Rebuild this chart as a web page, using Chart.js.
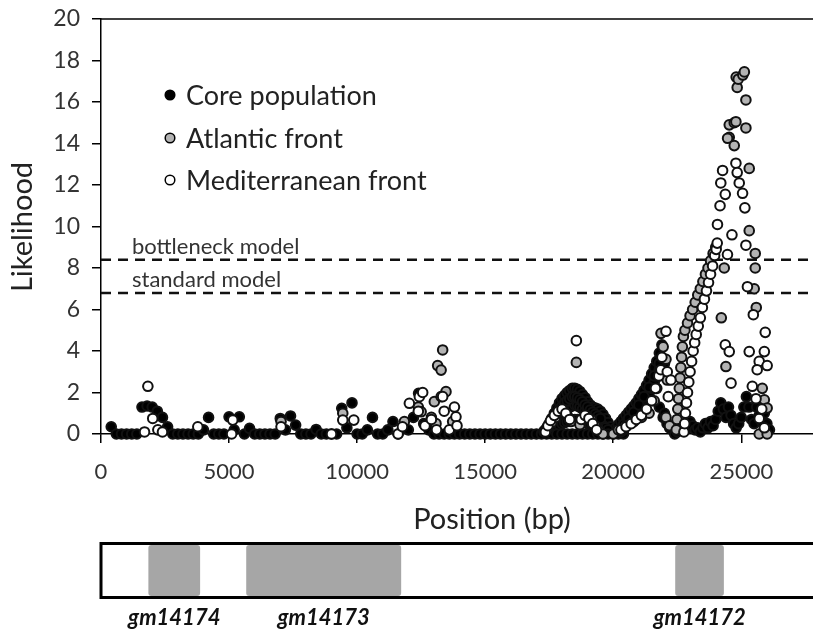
<!DOCTYPE html>
<html><head><meta charset="utf-8">
<script src="https://cdn.jsdelivr.net/npm/chart.js@4.4.1/dist/chart.umd.min.js"></script>
<style>
html,body{margin:0;padding:0;background:#fff;overflow:hidden;}
canvas{display:block;}
</style></head><body>
<canvas id="c" width="813" height="633"></canvas>
<script>
// ---------- data ----------
const seriesNames = ['Core population', 'Atlantic front', 'Mediterranean front'];
const xTickValues = [0, 5000, 10000, 15000, 20000, 25000];
const xMin = 0, xMax = 27800;
const yMin = 0, yMax = 20, yTickStep = 2;
const xTitle = 'Position (bp)';
const yTitle = 'Likelihood';

const thresholdLabels = ['bottleneck model', 'standard model'];
const thresholdValues = [8.4, 6.8];

const geneNames = ['gm14174', 'gm14173', 'gm14172'];
const geneStarts = [1850, 5670, 22420];
const geneEnds = [3870, 11720, 24320];

const corePos = [400,600,800,1000,1200,1400,1600,1800,2000,2200,2400,2600,2800,3000,3200,3400,3600,3800,4000,4200,4400,4600,4800,5000,5200,5400,5600,5800,6000,6200,6400,6600,6800,7000,7200,7400,7600,7800,8000,8200,8400,8600,8800,9000,9200,9400,9600,9800,10000,10200,10400,10600,10800,11000,11200,11400,11600,11800,12000,12200,12400,12600,12800,13000,13200,13400,13600,13800,14000,14200,14400,14600,14800,15000,15200,15400,15600,15800,16000,16200,16400,16600,16800,17000,17200,
17300,17400,17500,17600,17700,17800,17900,18000,18100,18200,18300,18400,18500,18600,18700,18800,18900,19000,19100,19200,19300,19400,19500,19600,19700,19800,19900,20000,20100,20200,20300,20400,20500,20600,20700,20800,20900,21000,21100,21200,21300,21400,21500,21600,21700,21800,21900,22000,22100,22200,
17500,17600,17700,17800,17900,18000,18100,18200,18300,18400,18500,18600,18700,18800,18900,19000,19100,19200,19300,19400,19500,19600,19700,19800,
17700,17800,17900,18000,18100,18200,18300,18400,18500,18600,18700,18800,18900,19000,19100,19200,19300,19400,19500,
17800,17900,18000,18100,18200,18300,18400,18500,18600,18700,18800,18900,19000,19100,19200,19300,19400,
17400,17600,17800,18000,18200,18400,18600,18800,19000,19200,19400,19600,19800,20000,20200,20400,
20300,20400,20500,20600,20700,20800,20900,21000,21100,21200,21300,21400,21500,21600,21700,21800,21900,
20400,20600,20800,21000,21200,21400,21600,21800,
21800,21950,22000,
22300,22400,22500,22600,22700,22800,22900,23000,23100,23200,23300,23400,23500,23600,23700,23800,23900,24000,24100,24200,24300,24400,24500,24600,24700,24800,24900,25000,25100,25200,25300,25400,25500,25600,25700,25800,25900,26000,26100];
const coreVal = [0.35,0,0,0,0,0,1.3,1.35,1.3,1.1,0.8,0.35,0,0,0,0,0,0,0.2,0.8,0,0,0,0.83,0.2,0.83,0,0.27,0,0,0,0,0,0.75,0.2,0.87,0.43,0,0,0,0.22,0,0,0,0,1.24,0.3,1.5,0,0,0.2,0.8,0,0,0.2,0.6,0,0.3,0.2,0.8,1.96,0.5,0.2,0,0,0,0,0,0,0,0,0,0,0,0,0,0,0,0,0,0,0,0,0,0,
0.15,0.3,0.5,0.75,1.0,1.25,1.5,1.7,1.85,2.0,2.1,2.2,2.2,2.15,2.05,1.9,1.75,1.55,1.4,1.3,1.25,1.2,1.1,0.95,0.75,0.55,0.35,0.2,0.3,0.45,0.6,0.75,0.9,1.05,1.2,1.35,1.5,1.7,1.9,2.1,2.35,2.6,2.9,3.2,3.5,3.9,4.3,3.4,0.5,0.3,
0.3,0.45,0.6,0.75,0.9,1.0,1.1,1.2,1.3,1.35,1.4,1.35,1.3,1.2,1.1,1.0,0.9,0.8,0.7,0.6,0.5,0.4,0.3,0.2,
0.8,1.0,1.2,1.35,1.5,1.6,1.7,1.8,1.8,1.75,1.65,1.55,1.4,1.3,1.15,1.05,0.95,0.85,0.75,
0.3,0.4,0.5,0.55,0.6,0.65,0.7,0.7,0.7,0.65,0.6,0.55,0.5,0.45,0.4,0.35,0.3,
0,0,0,0,0,0,0,0,0,0,0,0,0,0,0,0,
0.1,0.2,0.35,0.5,0.65,0.8,0.95,1.1,1.3,1.5,1.7,1.95,2.2,2.5,2.8,3.1,3.5,
0.45,0.75,1.05,1.4,1.8,2.25,2.8,3.4,
1.3,0.8,1.0,
0.2,0,0.1,0.3,0.2,0.5,0.3,0.6,0.4,0.2,0.3,0.1,0.3,0.5,0.3,0.6,0.4,0.7,1.1,1.5,1.2,0.8,1.3,0.9,0.5,0.3,0.5,0.8,1.3,1.8,1.3,0.7,0.5,1.3,0.9,0.6,1.0,0.5,0.2];

const atlPos = [7030,9440,11845,12390,12500,12900,13015,13080,13145,13280,13340,13470,13730,
17300,17450,17600,17750,17900,18050,18200,18350,18560,18700,18850,19000,19150,19300,19450,19600,20000,20200,20500,20800,21100,21400,21600,21700,21800,21865,21950,22060,22110,22060,22200,
22460,22490,22520,22550,22580,22610,22640,22670,22700,22740,22800,22900,23000,23100,23200,23300,23400,23500,23600,23700,23800,23900,24000,
24220,24400,24335,24530,24530,24465,24725,24725,24790,24840,24800,24880,25060,25120,25180,25180,25310,25310,25505,25545,25545,25585,25820,25900,26010,25700,26010];
const atlVal = [0.6,1.0,0.6,1.3,1.07,0.8,1.56,0.5,3.3,3.08,4.05,2.04,0.6,
0.1,0.3,0.55,0.8,1.0,1.05,0.9,0.6,3.45,0.45,0.7,0.85,0.7,0.4,0.15,0,0,0.2,0.4,0.6,0.8,1.0,1.6,2.2,2.8,4.85,4.2,3.6,2.6,0.8,0.4,
0.2,0.7,1.2,1.7,2.2,2.7,3.2,3.7,4.2,4.7,5.0,5.35,5.7,6.0,6.35,6.7,7.0,7.35,7.7,8.0,8.35,8.7,9.0,
5.6,3.25,8.0,14.3,14.9,14.25,13.9,15.0,15.05,16.7,17.2,17.1,17.3,17.45,16.1,14.75,12.8,9.8,7.0,8.7,8.0,6.1,2.2,1.65,1.25,0,0];

const medPos = [1700,1830,2020,2220,2400,3780,5100,5145,7030,9000,9440,9870,11600,11770,12040,12390,12430,12560,12650,12900,13100,13280,13340,13400,13600,13800,13860,13900,
17350,17450,17550,17700,17850,18000,18150,18300,18560,18750,18900,19050,19200,19350,20300,20500,20700,20900,21100,21300,21500,21650,21780,21860,21900,22060,22110,22150,22250,
22760,22790,22820,22860,22900,22950,23000,23060,23120,23180,23240,23320,23400,23480,23560,23640,23720,23800,23880,23960,24020,24060,
24070,24170,24200,24270,24375,24460,24635,24790,24840,24920,25050,25140,25180,25240,25470,25935,24375,24530,24600,25310,25900,25700,26010,25620,25430,25575,25700,25800,25900];
const medVal = [0.1,2.3,0.75,0.2,0.1,0.35,0,0.67,0.35,0,0.67,0.67,0,0.35,1.48,1.1,1.8,2.0,0.4,0.7,0.2,1.8,1.8,1.1,0.2,1.3,0.83,0.4,
0.1,0.4,0.65,0.9,1.1,1.2,1.0,0.7,4.5,0.7,0.9,0.75,0.5,0.2,0.2,0.35,0.5,0.7,0.9,1.2,1.6,2.2,2.8,3.1,3.7,4.95,3.0,1.8,2.6,
0.1,0.5,1.0,1.5,2.0,2.5,3.0,3.5,4.0,4.4,4.8,5.2,5.6,6.1,6.5,6.9,7.3,7.7,8.1,8.6,8.9,9.2,
10.1,11.0,12.1,12.7,11.55,8.65,9.6,13.05,12.6,12.1,11.6,10.9,9.1,7.1,5.75,4.9,4.3,3.97,2.45,3.97,3.97,3.5,3.3,3.1,2.3,1.7,0.75,1.2,0.3];

// ---------- chart ----------
const FONT = 'Lato, "Open Sans", sans-serif';
const toPts = (xs, ys) => xs.map((x, i) => ({x: x, y: ys[i]}));

const annot = {
  id: 'annot',
  afterDraw(chart) {
    const ctx = chart.ctx;
    const a = chart.chartArea;
    const xs = chart.scales.x, ys = chart.scales.y;
    ctx.save();
    // plot border top
    ctx.strokeStyle = '#000';
    ctx.lineWidth = 1.5;
    ctx.beginPath();
    ctx.moveTo(a.left, a.top); ctx.lineTo(a.right + 5, a.top);
    ctx.stroke();
    // threshold labels
    ctx.fillStyle = '#333';
    ctx.font = '22px ' + FONT;
    ctx.textAlign = 'left'; ctx.textBaseline = 'middle';
    thresholdLabels.forEach((t, i) => {
      ctx.fillText(t, a.left + 31, ys.getPixelForValue(thresholdValues[i]) - 13);
    });
    // legend
    const lx = a.left + 69, ly = [95, 138, 180];
    const fills = ['#000', '#b3b3b3', '#fff'];
    seriesNames.forEach((n, i) => {
      ctx.beginPath();
      ctx.arc(lx, ly[i], 4.8, 0, Math.PI * 2);
      ctx.fillStyle = fills[i]; ctx.fill();
      ctx.lineWidth = 1.5; ctx.strokeStyle = '#000'; ctx.stroke();
      ctx.fillStyle = '#222';
      ctx.font = '27px ' + FONT;
      ctx.textAlign = 'left'; ctx.textBaseline = 'middle';
      ctx.fillText(n, lx + 16, ly[i] + 1);
    });
    // axis titles
    ctx.fillStyle = '#222';
    ctx.font = '29px ' + FONT;
    ctx.textAlign = 'center'; ctx.textBaseline = 'middle';
    ctx.fillText(xTitle, 492, 520);
    ctx.save();
    ctx.translate(23, 227); ctx.rotate(-Math.PI / 2);
    ctx.fillText(yTitle, 0, 0);
    ctx.restore();
    // gene box
    const bx0 = xs.getPixelForValue(0), bx1 = xs.getPixelForValue(29000);
    const top = 543.5, bot = 597.5;
    ctx.fillStyle = '#a6a6a6';
    geneNames.forEach((g, i) => {
      const g0 = xs.getPixelForValue(geneStarts[i]), g1 = xs.getPixelForValue(geneEnds[i]);
      ctx.beginPath();
      if (ctx.roundRect) ctx.roundRect(g0, top + 1.5, g1 - g0, bot - top - 3, 3); else ctx.rect(g0, top + 1.5, g1 - g0, bot - top - 3);
      ctx.fill();
    });
    ctx.strokeStyle = '#000'; ctx.lineWidth = 3;
    ctx.strokeRect(bx0, top, bx1 - bx0, bot - top);
    ctx.fillStyle = '#111';
    ctx.font = 'italic bold 22px ' + FONT;
    ctx.textAlign = 'center'; ctx.textBaseline = 'middle';
    geneNames.forEach((g, i) => {
      const c = xs.getPixelForValue((geneStarts[i] + geneEnds[i]) / 2);
      ctx.fillText(g, c, 618);
    });
    ctx.restore();
  }
};

const ptStyle = (fill) => ({
  backgroundColor: fill, borderColor: '#111', pointRadius: 4.8, pointBorderWidth: 2, pointHoverRadius: 4.8, clip: false
});

new Chart(document.getElementById('c'), {
  type: 'scatter',
  data: {
    datasets: [
      Object.assign({label: seriesNames[0], data: toPts(corePos, coreVal), order: 3}, ptStyle('#000')),
      Object.assign({label: seriesNames[1], data: toPts(atlPos, atlVal), order: 2}, ptStyle('#b3b3b3')),
      Object.assign({label: seriesNames[2], data: toPts(medPos, medVal), order: 1}, ptStyle('#fff')),
      {type: 'line', label: thresholdLabels[0], data: [{x: xMin, y: thresholdValues[0]}, {x: xMax, y: thresholdValues[0]}],
        borderColor: '#111', borderWidth: 2.5, borderDash: [10, 7], pointRadius: 0, showLine: true, order: 4},
      {type: 'line', label: thresholdLabels[1], data: [{x: xMin, y: thresholdValues[1]}, {x: xMax, y: thresholdValues[1]}],
        borderColor: '#111', borderWidth: 2.5, borderDash: [10, 7], pointRadius: 0, showLine: true, order: 4}
    ]
  },
  options: {
    responsive: false, animation: false, devicePixelRatio: 1,
    layout: {autoPadding: false, padding: {left: 0, top: 19, right: 0, bottom: 0}},
    plugins: {legend: {display: false}, tooltip: {enabled: false}},
    scales: {
      x: {
        type: 'linear', min: xMin, max: xMax,
        afterBuildTicks(s) { s.ticks = xTickValues.map(v => ({value: v})); },
        ticks: {autoSkip: false, maxRotation: 0, padding: 16, color: '#333',
          font: {family: FONT, size: 22}, callback: v => String(v)},
        grid: {drawOnChartArea: false, drawTicks: true, tickLength: 9, color: '#000', lineWidth: 1.5},
        border: {display: true, color: '#000', width: 1.5},
        afterFit(s) { s.height = 199; s.paddingRight = 0; s.paddingLeft = 0; }
      },
      y: {
        min: yMin, max: yMax,
        ticks: {stepSize: yTickStep, padding: 12, color: '#333', font: {family: FONT, size: 23}, callback: v => String(v)},
        grid: {drawOnChartArea: false, drawTicks: true, tickLength: 9, color: '#000', lineWidth: 1.5},
        border: {display: true, color: '#000', width: 1.5},
        afterFit(s) { s.width = 101; s.paddingTop = 0; s.paddingBottom = 0; }
      }
    }
  },
  plugins: [annot]
});
</script>
</body></html>
